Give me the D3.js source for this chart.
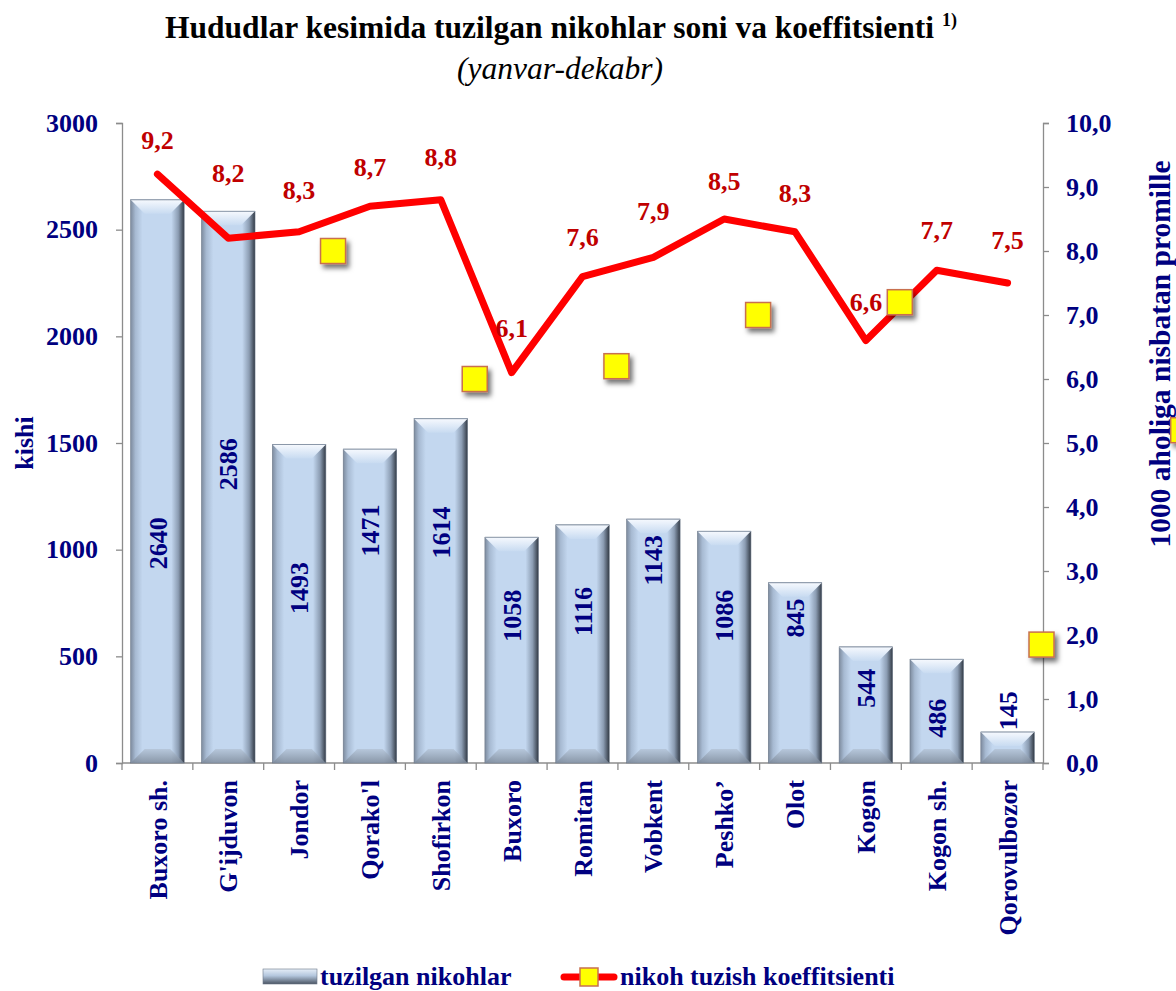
<!DOCTYPE html>
<html>
<head>
<meta charset="utf-8">
<script src="https://cdn.jsdelivr.net/npm/d3@7"></script>
<style>
  body { margin: 0; background: #fff; }
  svg text { font-family: "Liberation Serif", "Times New Roman", serif !important; font-weight: bold; }
</style>
</head>
<body>
<script>
// categories and values
var regions = ["Buxoro sh.", "G'ijduvon", "Jondor", "Qorako'l", "Shofirkon", "Buxoro", "Romitan",
               "Vobkent", "Peshko\u2019", "Olot", "Kogon", "Kogon sh.", "Qorovulbozor"];
var marriages = [2640, 2586, 1493, 1471, 1614, 1058, 1116, 1143, 1086, 845, 544, 486, 145];
var rates = [9.2, 8.2, 8.3, 8.7, 8.8, 6.1, 7.6, 7.9, 8.5, 8.3, 6.6, 7.7, 7.5];

// where each bar label sits (in kishi units), as placed in the original
var barLabelAt = [1030, 1400, 820, 1090, 1080, 690, 710, 950, 690, 680, 350, 210, 245];
// how far (px) each rate label sits above its point in the original
var rateLabelLift = [34, 65, 42, 39, 43, 45, 40, 47, 38, 39, 39, 40, 43];

// loose yellow markers left over in the original (slot = band boundary, value on right axis)
var looseSlots = [3, 5, 7, 9, 11, 13, 15];
var looseValues = [8.0, 6.0, 6.2, 7.0, 7.2, 1.85, 5.2];

var leftTicks = [0, 500, 1000, 1500, 2000, 2500, 3000];
var rightTicks = [0, 1, 2, 3, 4, 5, 6, 7, 8, 9, 10];

var width = 1176,
    height = 991;
var navy = "#000080", darkRed = "#c00000";
var serif = "'Liberation Serif', 'Times New Roman', serif";

var svg = d3.select("body").append("svg")
    .attr("width", width)
    .attr("height", height);

var defs = svg.append("defs");

var face = defs.append("linearGradient").attr("id", "face")
    .attr("x1", 0).attr("x2", 1).attr("y1", 0).attr("y2", 0);
[["0%", "#7d8b9e"], ["9%", "#a7bad2"], ["22%", "#c3d7ef"], ["76%", "#c3d7ef"],
 ["89%", "#8c9db3"], ["100%", "#323a45"]].forEach(function(s) {
  face.append("stop").attr("offset", s[0]).attr("stop-color", s[1]);
});

var topBevel = defs.append("linearGradient").attr("id", "topBevel")
    .attr("x1", 0).attr("x2", 0).attr("y1", 0).attr("y2", 1);
topBevel.append("stop").attr("offset", "0%").attr("stop-color", "#f6f9fe");
topBevel.append("stop").attr("offset", "100%").attr("stop-color", "#c8dbf1");

var bottomBevel = defs.append("linearGradient").attr("id", "bottomBevel")
    .attr("x1", 0).attr("x2", 0).attr("y1", 0).attr("y2", 1);
bottomBevel.append("stop").attr("offset", "0%").attr("stop-color", "#b3c3d6");
bottomBevel.append("stop").attr("offset", "100%").attr("stop-color", "#7b8797");

var legendBar = defs.append("linearGradient").attr("id", "legendBar")
    .attr("x1", 0).attr("x2", 0).attr("y1", 0).attr("y2", 1);
legendBar.append("stop").attr("offset", "0%").attr("stop-color", "#e6eef8");
legendBar.append("stop").attr("offset", "45%").attr("stop-color", "#b3c6dd");
legendBar.append("stop").attr("offset", "100%").attr("stop-color", "#4b5563");

var shadow = defs.append("filter").attr("id", "shadow")
    .attr("x", "-50%").attr("y", "-50%").attr("width", "200%").attr("height", "200%");
shadow.append("feDropShadow").attr("dx", 3).attr("dy", 4).attr("stdDeviation", 2.5)
    .attr("flood-color", "#000").attr("flood-opacity", 0.55);

// scales
var x = d3.scaleBand()
    .domain(regions)
    .range([122, 1043])
    .paddingInner(0.245)
    .paddingOuter(0.1225);
var yLeft = d3.scaleLinear().domain([0, 3000]).range([763, 123]);
var yRight = d3.scaleLinear().domain([0, 10]).range([763, 123]);

function cx(d) { return x(d) + x.bandwidth() / 2; }
function boundary(k) { return x.range()[0] + k * x.step(); }

// title
var title = svg.append("text")
    .attr("x", 561).attr("y", 38)
    .attr("text-anchor", "middle")
    .attr("font-family", serif)
    .style("font-size", "31.5px")
    .attr("fill", "#000");
title.append("tspan").text("Hududlar kesimida tuzilgan nikohlar soni va koeffitsienti ");
title.append("tspan").attr("dy", -12).style("font-size", "18px").text("1)");

svg.append("text")
    .attr("x", 560).attr("y", 79)
    .attr("text-anchor", "middle")
    .attr("font-family", serif)
    .style("font-size", "31.5px")
    .style("font-style", "italic")
    .style("font-weight", "normal")
    .attr("fill", "#000")
    .text("(yanvar-dekabr)");

// axes
var leftAxis = svg.append("g")
    .attr("transform", "translate(122,0)")
    .call(d3.axisLeft(yLeft).tickValues(leftTicks).tickSize(6).tickPadding(18).tickFormat(d3.format("d")));
var rightAxis = svg.append("g")
    .attr("transform", "translate(1043,0)")
    .call(d3.axisRight(yRight).tickValues(rightTicks).tickSize(6).tickPadding(17)
      .tickFormat(function(d) { return d.toFixed(1).replace(".", ","); }));

[leftAxis, rightAxis].forEach(function(a) {
  a.attr("font-family", serif);
  a.selectAll("path.domain").attr("stroke", "#8c8c8c").attr("stroke-width", 1.3);
  a.selectAll(".tick line").attr("stroke", "#8c8c8c").attr("stroke-width", 1.3);
  a.selectAll(".tick text")
    .attr("fill", navy)
    .style("font-weight", "bold")
    .style("font-size", "26px");
});

// x axis baseline and boundary ticks
svg.append("line")
    .attr("x1", x.range()[0]).attr("x2", x.range()[1])
    .attr("y1", yLeft(0)).attr("y2", yLeft(0))
    .attr("stroke", "#8c8c8c").attr("stroke-width", 1.3);
svg.selectAll("line.xtick")
    .data(d3.range(regions.length + 1))
  .enter().append("line")
    .attr("class", "xtick")
    .attr("x1", boundary).attr("x2", boundary)
    .attr("y1", yLeft(0)).attr("y2", yLeft(0) + 7)
    .attr("stroke", "#8c8c8c").attr("stroke-width", 1.3);

// axis titles
svg.append("text")
    .attr("transform", "translate(24,443) rotate(-90)")
    .attr("text-anchor", "middle")
    .attr("dy", "0.35em")
    .style("font-size", "26px")
    .attr("fill", navy)
    .text("kishi");
svg.append("text")
    .attr("transform", "translate(1160,354) rotate(-90)")
    .attr("text-anchor", "middle")
    .attr("dy", "0.35em")
    .style("font-size", "29.5px")
    .attr("fill", navy)
    .text("1000 aholiga nisbatan promille");

// bars
var bars = svg.selectAll("g.bar")
    .data(regions)
  .enter().append("g")
    .attr("class", "bar");

bars.each(function(d, i) {
  var g = d3.select(this);
  var x0 = x(d), x1 = x(d) + x.bandwidth();
  var y0 = yLeft(marriages[i]), y1 = yLeft(0);
  var b = Math.min(14, (y1 - y0) / 2);
  g.append("rect")
      .attr("x", x0).attr("y", y0)
      .attr("width", x1 - x0).attr("height", y1 - y0)
      .attr("fill", "url(#face)")
      .attr("stroke", "#6b7788").attr("stroke-width", 0.6);
  g.append("polygon")
      .attr("points", [[x0, y0], [x1, y0], [x1 - b, y0 + b], [x0 + b, y0 + b]].join(" "))
      .attr("fill", "url(#topBevel)");
  g.append("polygon")
      .attr("points", [[x0, y1], [x1, y1], [x1 - b, y1 - b], [x0 + b, y1 - b]].join(" "))
      .attr("fill", "url(#bottomBevel)")
      .attr("opacity", 0.8);
  g.append("line")
      .attr("x1", x0).attr("x2", x1).attr("y1", y0).attr("y2", y0)
      .attr("stroke", "#8a97a8").attr("stroke-width", 1);
});

// bar labels
svg.selectAll("text.barlabel")
    .data(regions)
  .enter().append("text")
    .attr("class", "barlabel")
    .attr("transform", function(d, i) {
      return "translate(" + cx(d) + "," + yLeft(barLabelAt[i]) + ") rotate(-90)";
    })
    .attr("text-anchor", "middle")
    .attr("dy", "0.35em")
    .style("font-size", "26px")
    .attr("fill", navy)
    .text(function(d, i) { return marriages[i]; });

// category labels
svg.selectAll("text.cat")
    .data(regions)
  .enter().append("text")
    .attr("class", "cat")
    .attr("transform", function(d) { return "translate(" + cx(d) + ",780) rotate(-90)"; })
    .attr("text-anchor", "end")
    .attr("dy", "0.35em")
    .style("font-size", "26px")
    .attr("fill", navy)
    .text(function(d) { return d; });

// rate line
var line = d3.line()
    .x(function(d, i) { return cx(regions[i]); })
    .y(function(d) { return yRight(d); });

svg.append("path")
    .datum(rates)
    .attr("d", line)
    .attr("fill", "none")
    .attr("stroke", "#ff0000")
    .attr("stroke-width", 7)
    .attr("stroke-linejoin", "round")
    .attr("stroke-linecap", "round");

svg.selectAll("text.rate")
    .data(rates)
  .enter().append("text")
    .attr("class", "rate")
    .attr("x", function(d, i) { return cx(regions[i]); })
    .attr("y", function(d, i) { return yRight(d) - rateLabelLift[i]; })
    .attr("text-anchor", "middle")
    .attr("dy", "0.35em")
    .style("font-size", "26px")
    .attr("fill", darkRed)
    .text(function(d) { return d.toFixed(1).replace(".", ","); });

// loose yellow markers
svg.selectAll("rect.loose")
    .data(looseValues)
  .enter().append("rect")
    .attr("class", "loose")
    .attr("x", function(d, i) { return boundary(looseSlots[i]) - 14; })
    .attr("y", function(d) { return yRight(d) - 12.5; })
    .attr("width", 25).attr("height", 25)
    .attr("fill", "#ffff00")
    .attr("stroke", "#c8704f").attr("stroke-width", 1.5)
    .attr("filter", "url(#shadow)");

// legend
var legend = svg.append("g");
legend.append("rect")
    .attr("x", 263).attr("y", 969).attr("width", 54).attr("height", 15)
    .attr("fill", "url(#legendBar)")
    .attr("stroke", "#6b7788").attr("stroke-width", 0.6);
legend.append("text")
    .attr("x", 320).attr("y", 985)
    .style("font-size", "26px")
    .attr("fill", navy)
    .text("tuzilgan nikohlar");
legend.append("line")
    .attr("x1", 564).attr("x2", 614).attr("y1", 977).attr("y2", 977)
    .attr("stroke", "#ff0000").attr("stroke-width", 7).attr("stroke-linecap", "round");
legend.append("rect")
    .attr("x", 580).attr("y", 968).attr("width", 18).attr("height", 18)
    .attr("fill", "#ffff00")
    .attr("stroke", "#c8704f").attr("stroke-width", 1.5);
legend.append("text")
    .attr("x", 620).attr("y", 985)
    .style("font-size", "26px")
    .attr("fill", navy)
    .text("nikoh tuzish koeffitsienti");
</script>
</body>
</html>
